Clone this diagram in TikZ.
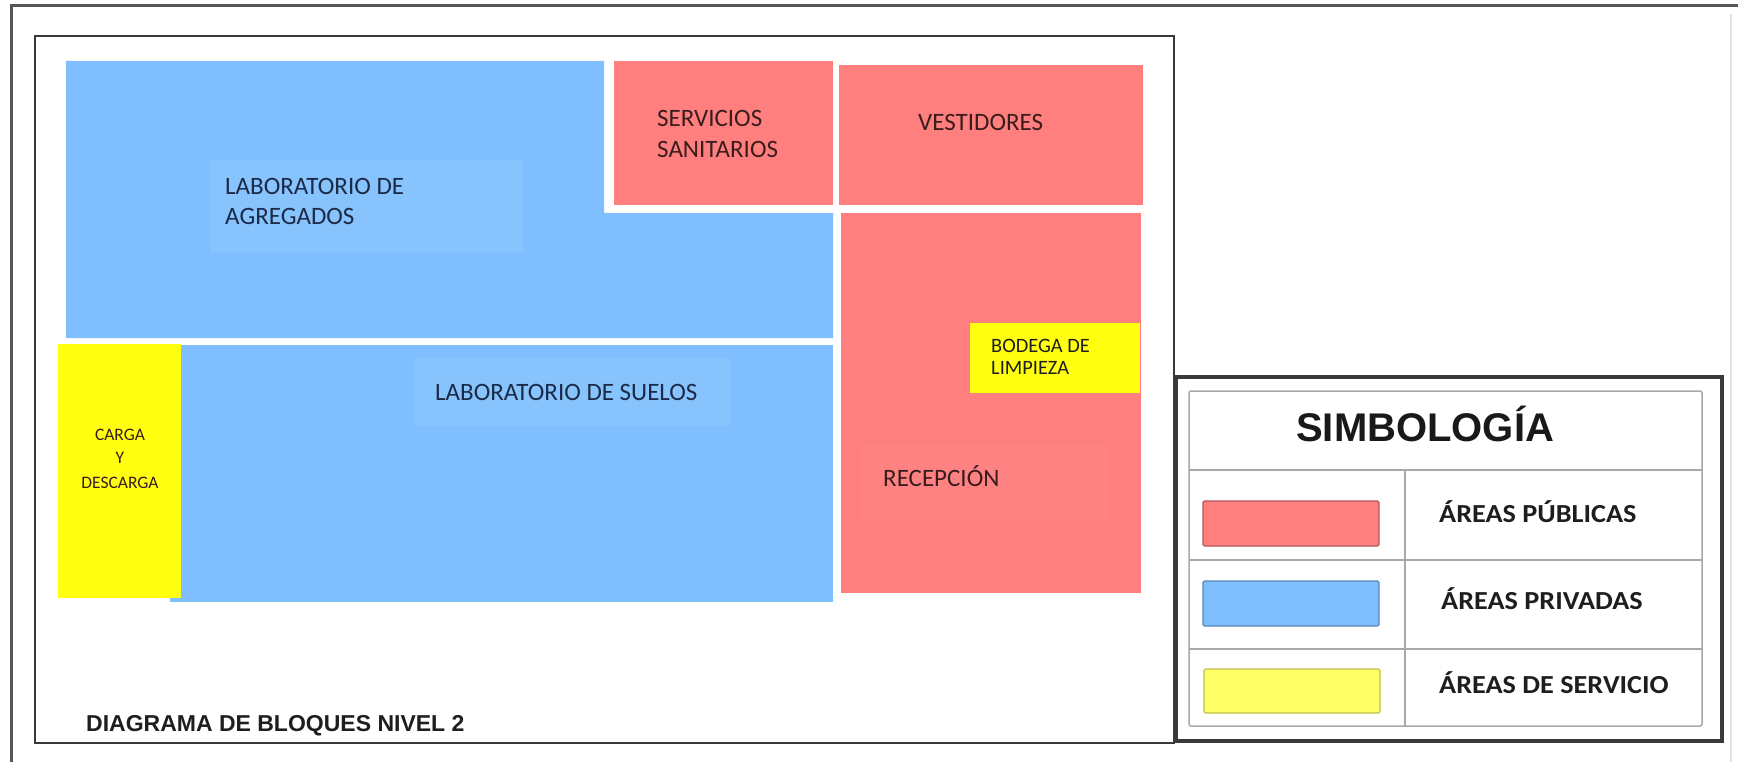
\documentclass[tikz,border=0pt]{standalone}
\usepackage{fontspec}
\setmainfont{Carlito}
\newfontfamily\arialfont{Liberation Sans}
\definecolor{blueA}{HTML}{80BFFF}
\definecolor{blueT}{HTML}{87C3FC}
\definecolor{pinkA}{HTML}{FF7F7F}
\definecolor{pinkT}{HTML}{FF8282}
\definecolor{yellowA}{HTML}{FFFF0F}
\definecolor{yellowL}{HTML}{FFFF66}
\definecolor{navytext}{HTML}{1C2A48}
\definecolor{redtext}{HTML}{3A1C1C}
\definecolor{darktext}{HTML}{1E1E1E}
\definecolor{framegray}{HTML}{3A3A3A}
\definecolor{tablegray}{HTML}{A8A8A8}
\begin{document}
\begin{tikzpicture}[x=1pt,y=-1pt,
  roomtext/.style={inner sep=0pt, anchor=base west, font=\fontsize{25}{30}\selectfont},
  smalltext/.style={inner sep=0pt, anchor=base, font=\fontsize{17.5}{21}\selectfont, text=redtext},
  bodtext/.style={inner sep=0pt, anchor=base west, font=\fontsize{20.4}{24}\selectfont, text=darktext},
  legtext/.style={inner sep=0pt, anchor=base west, font=\bfseries\fontsize{26}{30}\selectfont, text=darktext},
  swatch/.style={rounded corners=1.5pt, line width=1.2pt}
]
\useasboundingbox (0,0) rectangle (1738,762);
\fill[white] (0,0) rectangle (1738,762);
% outer frame
\draw[line width=3pt, framegray!85] (11,762) -- (11,5.5) -- (1738,5.5);
\draw[line width=1.5pt, black!12] (1731,14) -- (1731,762);
% inner frame
\draw[line width=2pt, framegray] (35,36) rectangle (1174,743);
% blocks
\fill[blueA] (66,61) -- (604,61) -- (604,213) -- (833,213) -- (833,338) -- (66,338) -- cycle;
\fill[blueT] (210,160) rectangle (523,252);
\fill[pinkA] (614,61) rectangle (833,205);
\fill[pinkA] (839,65) rectangle (1143,205);
\fill[pinkA] (841,213) rectangle (1141,593);
\fill[pinkT] (860,443) rectangle (1110,520);
\fill[yellowA] (970,323) rectangle (1140,393);
\fill[blueA] (170,345) rectangle (833,602);
\fill[blueT] (415,358) rectangle (731,425);
\fill[yellowA] (58,344) rectangle (181,598);
% room labels
\node[roomtext, text=navytext] (agr1) at (225,195) {LABORATORIO DE};
\node[roomtext, text=navytext] (agr2) at (225,225) {AGREGADOS};
\node[roomtext, text=navytext] (suelos) at (435,400) {LABORATORIO DE SUELOS};
\node[smalltext] (carga1) at (120,440) {CARGA};
\node[smalltext] (carga2) at (120,463) {Y};
\node[smalltext] (carga3) at (120,488) {DESCARGA};
\node[roomtext, text=redtext] (san1) at (657,127) {SERVICIOS};
\node[roomtext, text=redtext] (san2) at (657,158) {SANITARIOS};
\node[roomtext, text=redtext] (vest) at (918,131) {VESTIDORES};
\node[bodtext] (bod1) at (991,352.5) {BODEGA DE};
\node[bodtext] (bod2) at (991,374.5) {LIMPIEZA};
\node[roomtext, text=redtext] (recep) at (883,486) {RECEPCIÓN};
\node[inner sep=0pt, anchor=base west, font=\arialfont\bfseries\fontsize{23}{27}\selectfont, text=darktext] (diag) at (86,731.5) {DIAGRAMA DE BLOQUES NIVEL 2};
% legend
\draw[line width=3.5pt, framegray, fill=white] (1176,377) rectangle (1722,741);
\draw[line width=1.5pt, tablegray, rounded corners=2pt] (1189,391) rectangle (1702,726);
\draw[line width=1.5pt, tablegray] (1189,470) -- (1702,470);
\draw[line width=1.5pt, tablegray] (1189,560) -- (1702,560);
\draw[line width=1.5pt, tablegray] (1189,649) -- (1702,649);
\draw[line width=1.5pt, tablegray] (1405,470) -- (1405,726);
\node[inner sep=0pt, anchor=base west, font=\arialfont\bfseries\fontsize{40}{46}\selectfont, text=black!90] (simb) at (1296,441) {SIMBOLOGÍA};
\draw[swatch, fill=pinkA, draw=pinkA!70!black] (1203,501) rectangle (1379,546);
\draw[swatch, fill=blueA, draw=blueA!70!black] (1203,581) rectangle (1379,626);
\draw[swatch, fill=yellowL, draw=yellowL!75!black] (1204,669) rectangle (1380,713);
\node[legtext] (lpub) at (1439,522) {\scalebox{1.085}[1]{ÁREAS PÚBLICAS}};
\node[legtext] (lpriv) at (1441,609) {\scalebox{1.085}[1]{ÁREAS PRIVADAS}};
\node[legtext] (lserv) at (1439,693) {\scalebox{1.085}[1]{ÁREAS DE SERVICIO}};
\end{tikzpicture}
\end{document}
